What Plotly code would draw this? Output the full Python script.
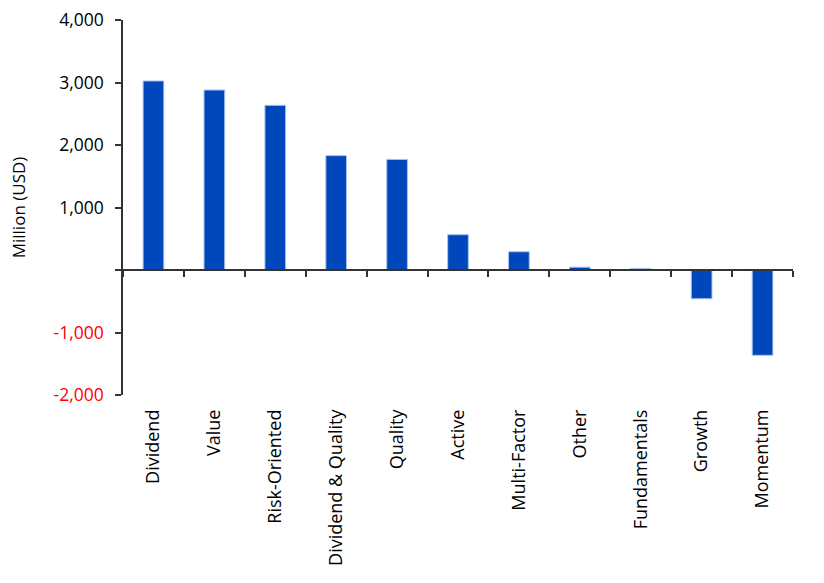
import plotly.graph_objects as go

categories = ["Dividend", "Value", "Risk-Oriented", "Dividend & Quality", "Quality",
              "Active", "Multi-Factor", "Other", "Fundamentals", "Growth", "Momentum"]
values = [3025, 2880, 2635, 1830, 1770, 565, 292, 45, 25, -460, -1365]

y_ticks = [-2000, -1000, 0, 1000, 2000, 3000, 4000]
y_text = []
for v in y_ticks:
    if v == 0:
        y_text.append("")
    elif v < 0:
        y_text.append('<span style="color:#FF0000">' + f"{v:,}" + "</span>")
    else:
        y_text.append(f"{v:,}")

n = len(categories)
idx = list(range(n))

fig = go.Figure()
fig.add_trace(go.Bar(
    x=idx, y=values, width=0.34,
    marker=dict(color="#0047BB", line=dict(color="#A9C4EE", width=1)),
    showlegend=False, hoverinfo="skip",
))

font_main = "Open Sans, Arial, sans-serif"

fig.update_layout(
    width=824, height=583,
    margin=dict(l=123, r=31, t=20, b=188),
    paper_bgcolor="white", plot_bgcolor="white",
    xaxis=dict(
        range=[-0.5, n - 0.5],
        tickmode="array", tickvals=idx, ticktext=categories,
        tickangle=-90, showline=False, ticks="", showgrid=False, zeroline=False,
        tickfont=dict(family=font_main, size=18, color="black"),
        ticklabelstandoff=10,
        automargin=False,
    ),
    xaxis2=dict(
        overlaying="x", anchor="free", position=1/3,
        range=[-0.5, n - 0.5],
        tickmode="array", tickvals=[i - 0.5 for i in range(n + 1)],
        showticklabels=False, ticks="outside", ticklen=6, tickwidth=1.5, tickcolor="#333333",
        showline=True, linecolor="#333333", linewidth=1.5, showgrid=False, zeroline=False,
    ),
    yaxis=dict(
        range=[-2000, 4000],
        tickmode="array", tickvals=y_ticks, ticktext=y_text,
        ticks="outside", ticklen=6, tickwidth=1.5, tickcolor="#333333",
        showline=True, linecolor="#333333", linewidth=1.5,
        showgrid=False, zeroline=False,
        tickfont=dict(family=font_main, size=17.5, color="black"),
        ticklabelstandoff=8,
        automargin=False,
        title=dict(text="Million (USD)", font=dict(family=font_main, size=17, color="black"), standoff=24),
    ),
)
# invisible trace so xaxis2 is drawn
fig.add_trace(go.Scatter(x=[0], y=[0], xaxis="x2", mode="markers",
                         marker=dict(opacity=0), showlegend=False, hoverinfo="skip"))

fig.write_html("out.html", config={"displayModeBar": False},
               post_script="document.body.style.margin='0';")
